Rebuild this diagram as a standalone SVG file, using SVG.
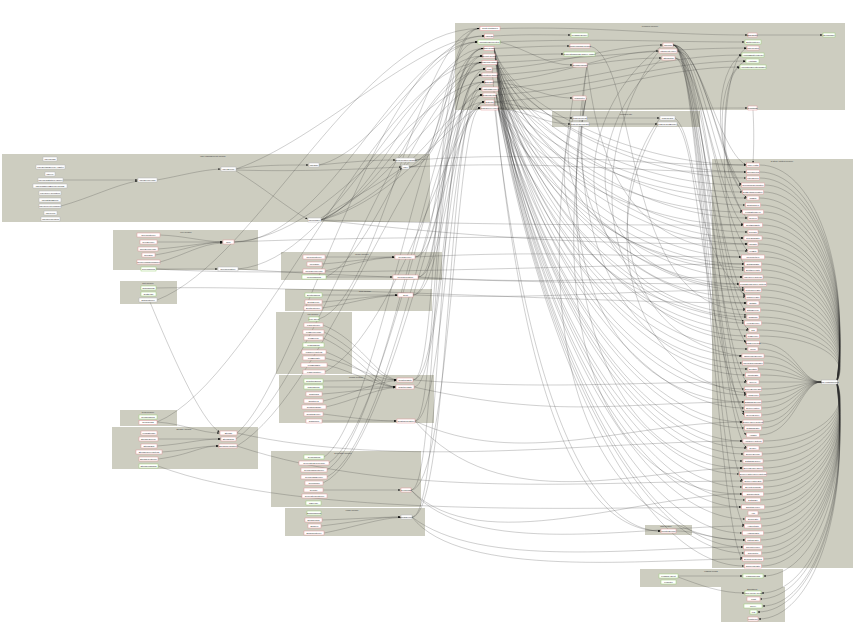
<svg xmlns="http://www.w3.org/2000/svg" width="857" height="640" viewBox="0 0 857 640">
<style>
.c{fill:#cdcdc0;stroke:none}
.np{fill:#fff;stroke:#e29a9a;stroke-width:.5}
.ng{fill:#fff;stroke:#9fd27a;stroke-width:.5}
.nw{fill:#fff;stroke:#b5b5b5;stroke-width:.5}
text{font-family:"Liberation Sans",Arial,sans-serif;font-size:2.2px;fill:#222;text-anchor:middle}
.ct{fill:#333}
.e{fill:none;stroke:#2b2b2b;stroke-opacity:.5;stroke-width:.45}
.m{marker-end:url(#ah)}
</style>
<defs>
<marker id="ah" viewBox="0 0 10 8" refX="10" refY="4" markerWidth="2.2" markerHeight="1.8" markerUnits="userSpaceOnUse" orient="auto"><path d="M0,0 L10,4 L0,8z" fill="#111"/></marker>
</defs>
<rect width="857" height="640" fill="#fff"/>
<g id="clusters">
<g id="c-common"><rect class="c" x="455" y="23" width="390" height="87"/><text class="ct" x="650" y="26.5">common-module</text></g>
<g id="c-dto"><rect class="c" x="552" y="111" width="148" height="16"/><text class="ct" x="626" y="114.5">common-dto</text></g>
<g id="c-user"><rect class="c" x="2" y="154" width="428" height="68"/><text class="ct" x="213" y="157">user-management-module</text></g>
<g id="c-role"><rect class="c" x="113" y="230" width="145" height="40"/><text class="ct" x="186" y="232.5">role-module</text></g>
<g id="c-dict"><rect class="c" x="120" y="281" width="57" height="23"/><text class="ct" x="148" y="283.5">dict-module</text></g>
<g id="c-menu"><rect class="c" x="281" y="252" width="161" height="28"/><text class="ct" x="362" y="254.5">menu-module</text></g>
<g id="c-dept"><rect class="c" x="285" y="289" width="147" height="22"/><text class="ct" x="365" y="291.5">dept-module</text></g>
<g id="c-log"><rect class="c" x="276" y="312" width="76" height="62"/><text class="ct" x="313" y="314.5">log-module</text></g>
<g id="c-quartz"><rect class="c" x="279" y="375" width="155" height="48"/><text class="ct" x="356" y="377.5">quartz-module</text></g>
<g id="c-tools"><rect class="c" x="120" y="410" width="57" height="16"/><text class="ct" x="148" y="412.5">tools-module</text></g>
<g id="c-storage"><rect class="c" x="112" y="427" width="146" height="42"/><text class="ct" x="184" y="429.5">storage-module</text></g>
<g id="c-gen"><rect class="c" x="271" y="451" width="150" height="56"/><text class="ct" x="343" y="453.5">generator-module</text></g>
<g id="c-email"><rect class="c" x="285" y="508" width="140" height="28"/><text class="ct" x="352" y="510.5">email-module</text></g>
<g id="c-entities"><rect class="c" x="712" y="159" width="141" height="409"/><text class="ct" x="782" y="162">system-entities-module</text></g>
<g id="c-mnt"><rect class="c" x="645" y="525" width="47" height="10"/><text class="ct" x="666" y="527.3">mnt-module</text></g>
<g id="c-logging"><rect class="c" x="640" y="569" width="143" height="18"/><text class="ct" x="711" y="572">logging-config</text></g>
<g id="c-annotation"><rect class="c" x="721" y="587" width="64" height="35"/><text class="ct" x="752" y="589.8">annotation</text></g>
</g>
<g id="edges">
<path class="e" d="M759.5,165C812,165 851,262.7 837,381"/>
<path class="e" d="M759.5,172C812,172 851,266.5 837,381"/>
<path class="e" d="M759.5,178C812,178 851,269.8 837,381"/>
<path class="e" d="M764.5,185C812,185 851,273.7 837,381"/>
<path class="e" d="M763.5,192C812,192 851,277.5 837,381"/>
<path class="e" d="M759,198C812,198 851,280.8 837,381"/>
<path class="e" d="M760.5,205C812,205 851,284.7 837,381"/>
<path class="e" d="M763.5,212C812,212 851,288.5 837,381"/>
<path class="e" d="M758,218C812,218 851,291.8 837,381"/>
<path class="e" d="M762.5,225C812,225 851,295.7 837,381"/>
<path class="e" d="M758,232C812,232 851,299.5 837,381"/>
<path class="e" d="M762,238C812,238 851,302.8 837,381"/>
<path class="e" d="M758,244C812,244 851,306 837,381"/>
<path class="e" d="M758,251C812,251 851,310 837,381"/>
<path class="e" d="M764.5,257C812,257 851,313 837,381"/>
<path class="e" d="M761.5,264C812,264 851,317 837,381"/>
<path class="e" d="M761.5,270C812,270 851,320 837,381"/>
<path class="e" d="M763,277C812,277 851,324 837,381"/>
<path class="e" d="M766.5,284C812,284 851,328 837,381"/>
<path class="e" d="M761.5,290C812,290 851,331 837,381"/>
<path class="e" d="M760.5,297C812,297 851,335 837,381"/>
<path class="e" d="M759,303C812,303 851,339 837,381"/>
<path class="e" d="M760.5,310C812,310 851,342 837,381"/>
<path class="e" d="M759,317C812,317 851,346 837,381"/>
<path class="e" d="M761.5,323C812,323 851,350 837,381"/>
<path class="e" d="M757,330C812,330 851,353 837,381"/>
<path class="e" d="M759.5,336C812,336 851,357 837,381"/>
<path class="e" d="M759.5,343C795,343 800,382 821.5,382"/>
<path class="e" d="M758,349C795,349 800,382 821.5,382"/>
<path class="e" d="M764,356C795,356 800,382 821.5,382"/>
<path class="e" d="M763.5,363C795,363 800,382 821.5,382"/>
<path class="e" d="M758,369C795,369 800,382 821.5,382"/>
<path class="e" d="M760.5,375C795,375 800,382 821.5,382"/>
<path class="e" d="M759,382L821.5,382"/>
<path class="e" d="M761.5,389C795,389 800,382 821.5,382"/>
<path class="e" d="M759.5,395C795,395 800,382 821.5,382"/>
<path class="e" d="M761.5,402C795,402 800,382 821.5,382"/>
<path class="e" d="M761.5,408C795,408 800,382 821.5,382"/>
<path class="e" d="M761.5,415C795,415 800,382 821.5,382"/>
<path class="e" d="M763,422C795,422 800,382 821.5,382"/>
<path class="e" d="M761.5,428C795,428 800,382 821.5,382"/>
<path class="e" d="M759.5,435C795,435 800,382 821.5,382"/>
<path class="e" d="M763,441C812,441 851,414.5 837,383"/>
<path class="e" d="M759,448C812,448 851,418 837,383"/>
<path class="e" d="M762,454C812,454 851,422 837,383"/>
<path class="e" d="M763,461C812,461 851,425.5 837,383"/>
<path class="e" d="M763,468C812,468 851,429 837,383"/>
<path class="e" d="M766.5,474C812,474 851,432.6 837,383"/>
<path class="e" d="M763,481C812,481 851,436.5 837,383"/>
<path class="e" d="M763.5,487C812,487 851,440 837,383"/>
<path class="e" d="M763.5,494C812,494 851,443.6 837,383"/>
<path class="e" d="M760.5,500C812,500 851,447 837,383"/>
<path class="e" d="M764.5,507C812,507 851,451 837,383"/>
<path class="e" d="M758,513C812,513 851,454 837,383"/>
<path class="e" d="M760.5,519C812,519 851,457 837,383"/>
<path class="e" d="M761.5,526C812,526 851,461 837,383"/>
<path class="e" d="M763.5,533C812,533 851,465 837,383"/>
<path class="e" d="M760.5,540C812,540 851,469 837,383"/>
<path class="e" d="M762.5,547C812,547 851,473 837,383"/>
<path class="e" d="M761.5,553C812,553 851,476 837,383"/>
<path class="e" d="M763.5,559C812,559 851,479 837,383"/>
<path class="e" d="M761.5,566C812,566 851,483 837,383"/>
<path class="e m" d="M837,384C851,489 812,576 763.5,576"/>
<path class="e m" d="M837,384C851,498 812,593 761.5,593"/>
<path class="e m" d="M837,384C851,501 812,599 760,599"/>
<path class="e m" d="M837,384C851,505 812,606 762.5,606"/>
<path class="e m" d="M837,384C851,509 812,612 757.5,612"/>
<path class="e m" d="M837,384C851,513 812,619 758.5,619"/>
<path class="e m" d="M494,48.5C512,107 636,165 746,165"/>
<path class="e m" d="M494,48.5C512,113 636,178 746,178"/>
<path class="e m" d="M494,48.5C512,127 635,205 745,205"/>
<path class="e m" d="M494,48.5C512,143 633,238 743.5,238"/>
<path class="e m" d="M494,48.5C512,163 632,277 742.5,277"/>
<path class="e m" d="M494,48.5C512,186 634,323 744,323"/>
<path class="e m" d="M494,48.5C512,212 635,375 745,375"/>
<path class="e m" d="M495,56C515,114 636,172 746,172"/>
<path class="e m" d="M495,56C515,137 637,218 747.5,218"/>
<path class="e m" d="M495,56C515,156 631,257 741,257"/>
<path class="e m" d="M495,56C515,180 636,303 746.5,303"/>
<path class="e m" d="M495,56C515,206 631,356 741.5,356"/>
<path class="e m" d="M495,56C515,239 632,422 742.5,422"/>
<path class="e m" d="M497,62.5C520,124 631,185 741,185"/>
<path class="e m" d="M497,62.5C520,147 637,232 747.5,232"/>
<path class="e m" d="M497,62.5C520,176 634,290 744,290"/>
<path class="e m" d="M497,62.5C520,199 636,336 746,336"/>
<path class="e m" d="M497,62.5C520,235 634,408 744,408"/>
<path class="e m" d="M497,62.5C520,262 632,461 742.5,461"/>
<path class="e m" d="M497,62.5C520,285 631,507 741,507"/>
<path class="e m" d="M497,75C525,133 632,192 742,192"/>
<path class="e m" d="M497,75C525,160 637,244 747.5,244"/>
<path class="e m" d="M497,75C525,196 636,317 746.5,317"/>
<path class="e m" d="M497,75C525,232 634,389 744,389"/>
<path class="e m" d="M497,75C525,258 632,441 742.5,441"/>
<path class="e m" d="M497,75C525,281 632,487 742,487"/>
<path class="e m" d="M497,75C525,304 632,533 742,533"/>
<path class="e m" d="M498,89C530,143 636,198 746.5,198"/>
<path class="e m" d="M498,89C530,176 634,264 744,264"/>
<path class="e m" d="M498,89C530,219 637,349 747.5,349"/>
<path class="e m" d="M498,89C530,258 634,428 744,428"/>
<path class="e m" d="M498,89C530,281 629,474 739,474"/>
<path class="e m" d="M498,89C530,304 635,519 745,519"/>
<path class="e m" d="M498,89C530,321 634,553 744,553"/>
<path class="e m" d="M496,95C535,153 632,212 742,212"/>
<path class="e m" d="M496,95C535,189 629,284 739,284"/>
<path class="e m" d="M496,95C535,229 632,363 742,363"/>
<path class="e m" d="M496,95C535,274 633,454 743.5,454"/>
<path class="e m" d="M496,95C535,297 635,500 745,500"/>
<path class="e m" d="M496,95C535,330 634,566 744,566"/>
<path class="e m" d="M498,108C540,166 633,225 743,225"/>
<path class="e m" d="M498,108C540,189 634,270 744,270"/>
<path class="e m" d="M498,108C540,219 638,330 748.5,330"/>
<path class="e m" d="M498,108C540,251 636,395 746,395"/>
<path class="e m" d="M498,108C540,278 636,448 746.5,448"/>
<path class="e m" d="M498,108C540,327 633,547 743,547"/>
<path class="e m" d="M587,65C600,180 640,251 747.5,251"/>
<path class="e m" d="M587,65C560,260 640,369 747.5,369"/>
<path class="e m" d="M587,65C545,330 630,468 742.5,468"/>
<path class="e m" d="M586,98C560,230 640,297 745,297"/>
<path class="e m" d="M586,98C545,300 640,402 744,402"/>
<path class="e m" d="M586,98C540,380 630,494 742,494"/>
<path class="e m" d="M573,98C520,420 630,540 745,540"/>
<path class="e m" d="M590,46C640,60 620,310 745,310"/>
<path class="e m" d="M571,124C540,250 620,300 744,321"/>
<path class="e m" d="M573,118C545,220 640,260 744,268"/>
<path class="e m" d="M660,118C600,200 620,340 742,356"/>
<path class="e m" d="M658,124C590,240 640,380 746,393"/>
<path class="e m" d="M675,118C700,140 690,250 745,295"/>
<path class="e m" d="M677,124C700,150 700,320 744,413"/>
<path class="e m" d="M663,45C560,120 560,300 746.5,315"/>
<path class="e m" d="M662,58C580,130 570,280 744,288"/>
<path class="e m" d="M659,51C590,140 580,330 746,341"/>
<path class="e m" d="M673,45C700,45 718,150 746,165"/>
<path class="e m" d="M673,45C700,45 716,145 741,185"/>
<path class="e m" d="M673,45C700,45 716,172 742,212"/>
<path class="e m" d="M673,45C700,45 716,211 747.5,251"/>
<path class="e m" d="M673,45C700,45 716,257 745,297"/>
<path class="e m" d="M673,45C700,45 716,303 746,343"/>
<path class="e m" d="M673,45C700,45 716,342 746.5,382"/>
<path class="e m" d="M673,45C700,45 716,375 744,415"/>
<path class="e m" d="M673,45C700,45 716,395 746,435"/>
<path class="e m" d="M673,45C700,45 716,441 742.5,481"/>
<path class="e m" d="M673,45C700,45 716,486 744,526"/>
<path class="e m" d="M673,45C700,45 716,519 742,559"/>
<path class="e m" d="M677,51C705,51 720,170 746.5,198"/>
<path class="e m" d="M677,51C705,51 718,280 745,310"/>
<path class="e m" d="M677,51C705,51 718,365 746,395"/>
<path class="e m" d="M675,58C700,58 718,200 743,225"/>
<path class="e m" d="M675,58C700,58 718,300 748.5,330"/>
<path class="e m" d="M675,58C700,58 718,418 746.5,448"/>
<path class="e m" d="M500,28.5C600,26 660,35 747.5,35"/>
<path class="e m" d="M500,42C600,38 660,42 744.5,42"/>
<path class="e m" d="M494,36C530,34 540,35 570.5,35"/>
<path class="e m" d="M494,48.5C530,47 540,46 569.5,46"/>
<path class="e m" d="M495,56C525,55 540,54 563.5,54"/>
<path class="e m" d="M497,62.5C600,58 660,48 746.5,48"/>
<path class="e m" d="M492,69C560,66 610,45 662.5,45"/>
<path class="e m" d="M493,82C560,78 610,51 658.5,51"/>
<path class="e m" d="M497,75C570,70 610,58 661.5,58"/>
<path class="e m" d="M498,89C600,80 660,55 741.5,55"/>
<path class="e m" d="M496,95C600,88 660,61 745.5,61"/>
<path class="e m" d="M494,102C600,95 660,67 739.5,67"/>
<path class="e m" d="M498,108C600,110 680,108 747.5,108"/>
<path class="e m" d="M500,42C530,50 545,65 572.5,65"/>
<path class="e m" d="M493,82C530,85 545,98 572.5,98"/>
<path class="e m" d="M757,35L822.5,35"/>
<path class="e m" d="M753,110C754,130 754,145 753,163"/>
<path class="e m" d="M741,185C712,150 715,70 741.5,55"/>
<path class="e m" d="M742,192C715,160 715,75 745.5,61"/>
<path class="e m" d="M747,218C720,190 718,80 739.5,67"/>
<path class="e m" d="M744,264C715,220 720,60 746.5,48"/>
<path class="e m" d="M494,102C530,105 545,118 572.5,118"/>
<path class="e m" d="M498,108C530,112 545,124 570.5,124"/>
<path class="e m" d="M587,118L659.5,118"/>
<path class="e m" d="M589,124L657.5,124"/>
<path class="e m" d="M415,160C450,160 445,28.5 479.5,28.5"/>
<path class="e m" d="M409,167C445,167 440,42 477.5,42"/>
<path class="e m" d="M409,167C448,167 450,56 482.5,56"/>
<path class="e m" d="M321,220C380,200 430,48.5 483.5,48.5"/>
<path class="e m" d="M321,220C390,190 440,62.5 481.5,62.5"/>
<path class="e m" d="M321,220C400,180 450,82 484.5,82"/>
<path class="e m" d="M321,220C410,190 455,95 482.5,95"/>
<path class="e m" d="M321,220C400,200 460,108 480.5,108"/>
<path class="e m" d="M415,257C440,257 440,62.5 481.5,62.5"/>
<path class="e m" d="M415,257C445,257 445,89 481.5,89"/>
<path class="e m" d="M418,277C445,277 440,48.5 483.5,48.5"/>
<path class="e m" d="M418,277C448,277 450,75 481.5,75"/>
<path class="e m" d="M413,295C442,295 445,56 482.5,56"/>
<path class="e m" d="M413,295C445,295 450,102 484.5,102"/>
<path class="e m" d="M413,380C440,380 430,28.5 479.5,28.5"/>
<path class="e m" d="M413,380C445,380 445,69 485.5,69"/>
<path class="e m" d="M414,387C442,387 450,82 484.5,82"/>
<path class="e m" d="M415,421C438,421 432,48.5 483.5,48.5"/>
<path class="e m" d="M415,421C445,421 450,95 482.5,95"/>
<path class="e m" d="M411,490C440,490 428,62.5 481.5,62.5"/>
<path class="e m" d="M411,490C450,490 455,108 480.5,108"/>
<path class="e m" d="M412,517C445,517 435,75 481.5,75"/>
<path class="e m" d="M412,517C450,517 448,89 481.5,89"/>
<path class="e m" d="M234,242C330,242 400,42 477.5,42"/>
<path class="e m" d="M234,242C340,235 420,82 484.5,82"/>
<path class="e m" d="M238,269C340,260 410,56 482.5,56"/>
<path class="e m" d="M237,433C300,380 380,36 484.5,36"/>
<path class="e m" d="M236,439C320,380 400,69 485.5,69"/>
<path class="e m" d="M237,446C330,390 420,102 484.5,102"/>
<path class="e m" d="M157,300C260,260 360,28.5 479.5,28.5"/>
<path class="e m" d="M236,169C320,140 420,36 484.5,36"/>
<path class="e m" d="M319,165C380,150 430,42 477.5,42"/>
<path class="e m" d="M157,422C260,380 380,62.5 481.5,62.5"/>
<path class="e m" d="M324,457C380,420 430,48.5 483.5,48.5"/>
<path class="e m" d="M329,463C390,420 440,89 481.5,89"/>
<path class="e m" d="M327,470C390,430 440,62.5 481.5,62.5"/>
<path class="e m" d="M327,477C395,440 445,95 482.5,95"/>
<path class="e m" d="M323,483C395,450 450,102 484.5,102"/>
<path class="e m" d="M319,319C380,300 420,28.5 479.5,28.5"/>
<path class="e m" d="M325,372C400,330 455,108 480.5,108"/>
<path class="e m" d="M326,277C380,250 430,69 485.5,69"/>
<path class="e m" d="M415,257C550,250 620,257 741,257"/>
<path class="e m" d="M418,277C550,285 620,277 742.5,277"/>
<path class="e m" d="M413,295C550,300 620,290 744,290"/>
<path class="e m" d="M413,380C550,390 620,382 746.5,382"/>
<path class="e m" d="M414,387C560,420 620,402 744,402"/>
<path class="e m" d="M415,421C520,470 630,422 742.5,422"/>
<path class="e m" d="M415,421C500,520 640,468 742.5,468"/>
<path class="e m" d="M411,490C480,560 640,494 742,494"/>
<path class="e m" d="M411,490C470,560 640,526 744,526"/>
<path class="e m" d="M412,517C480,570 640,547 743,547"/>
<path class="e m" d="M412,517C460,580 650,559 742,559"/>
<path class="e m" d="M237,433C400,470 600,441 742.5,441"/>
<path class="e m" d="M237,446C400,500 600,481 742.5,481"/>
<path class="e m" d="M158,466C300,520 600,507 741,507"/>
<path class="e m" d="M238,269C400,280 600,284 739,284"/>
<path class="e m" d="M156,269C300,278 600,264 744,264"/>
<path class="e m" d="M156,288C300,285 600,303 746.5,303"/>
<path class="e m" d="M234,242C400,235 600,238 743.5,238"/>
<path class="e m" d="M409,167C550,160 620,172 746,172"/>
<path class="e m" d="M321,220C500,225 600,225 743,225"/>
<path class="e m" d="M321,220C500,240 600,244 747.5,244"/>
<path class="e m" d="M415,160C550,150 620,165 746,165"/>
<path class="e m" d="M492,69C520,400 580,531 660.5,531"/>
<path class="e m" d="M494,102C530,430 600,531 660.5,531"/>
<path class="e m" d="M676,531C700,531 710,540 745,540"/>
<path class="e m" d="M678,576L742.5,576"/>
<path class="e m" d="M678,577C700,585 720,593 744.5,593"/>
<path class="e m" d="M63,180L137.5,180"/>
<path class="e m" d="M61,206C90,198 115,185 137.5,181"/>
<path class="e m" d="M157,180C180,176 200,170 220.5,169"/>
<path class="e m" d="M236,169C260,165 280,165 308.5,165"/>
<path class="e m" d="M236,170C300,172 360,169 401.5,167"/>
<path class="e m" d="M319,165C350,162 370,160 395.5,160"/>
<path class="e m" d="M236,171C260,185 290,210 307.5,219"/>
<path class="e m" d="M321,218C350,200 385,180 402,168"/>
<path class="e m" d="M160,235C185,236 200,241 222.5,242"/>
<path class="e m" d="M157,242L222.5,242"/>
<path class="e m" d="M158,249C185,247 200,243 222.5,242"/>
<path class="e m" d="M155,255C185,250 200,243 222.5,242"/>
<path class="e m" d="M160,262C185,255 200,244 222.5,243"/>
<path class="e m" d="M156,269L217.5,269"/>
<path class="e m" d="M150,302C170,350 200,420 219.5,432"/>
<path class="e m" d="M157,422C185,424 200,433 219.5,433"/>
<path class="e m" d="M158,439L220.5,439"/>
<path class="e m" d="M157,446C185,444 200,439 220.5,439"/>
<path class="e m" d="M162,452C190,450 200,446 218.5,446"/>
<path class="e m" d="M158,459C190,455 200,446 218.5,446"/>
<path class="e m" d="M325,257L394.5,257"/>
<path class="e m" d="M322,264C350,262 370,258 394.5,257"/>
<path class="e m" d="M325,271C350,265 370,258 394.5,257.5"/>
<path class="e m" d="M326,277L392.5,277"/>
<path class="e m" d="M322,295L397.5,295"/>
<path class="e m" d="M322,302C350,300 370,296 397.5,295"/>
<path class="e m" d="M322,308C350,304 370,296 397.5,295.5"/>
<path class="e m" d="M323,325C360,340 375,375 396.5,380"/>
<path class="e m" d="M324,332C360,350 375,378 396.5,380"/>
<path class="e m" d="M323,338C360,355 375,385 395.5,387"/>
<path class="e m" d="M326,352C360,365 375,386 395.5,387"/>
<path class="e m" d="M325,358C355,365 375,380 396.5,380"/>
<path class="e m" d="M327,365C355,372 375,386 395.5,387"/>
<path class="e m" d="M323,381L396.5,380"/>
<path class="e m" d="M323,387L395.5,387"/>
<path class="e m" d="M322,394C350,392 375,388 395.5,387"/>
<path class="e m" d="M323,401C350,395 375,382 396.5,380.5"/>
<path class="e m" d="M326,407C355,400 375,389 395.5,387.5"/>
<path class="e m" d="M323,414C355,418 375,421 396.5,421"/>
<path class="e m" d="M322,421L396.5,421"/>
<path class="e m" d="M323,490L400.5,490"/>
<path class="e m" d="M322,520C355,519 380,517 400.5,517"/>
<path class="e m" d="M321,526C355,522 380,517 400.5,517"/>
<path class="e m" d="M324,533C355,527 380,518 400.5,517.5"/>
</g>
<g id="nodes">
<g id="n-ContextInitializer"><rect class="np" x="480" y="26.5" width="20" height="4"/><text x="490" y="29.3">ContextInitializer</text></g>
<g id="n-AppMain"><rect class="np" x="484.5" y="34" width="9" height="4"/><text x="489" y="36.8">AppMain</text></g>
<g id="n-ApplicationProperties"><rect class="ng" x="478" y="40" width="22" height="4"/><text x="489" y="42.8">ApplicationProperties</text></g>
<g id="n-JdbcConfig"><rect class="np" x="484" y="46.5" width="10" height="4"/><text x="489" y="49.3">JdbcConfig</text></g>
<g id="n-SecurityConfig"><rect class="np" x="483" y="54" width="12" height="4"/><text x="489" y="56.8">SecurityConfig</text></g>
<g id="n-WebMvcConfigurer"><rect class="np" x="482" y="60.5" width="15" height="4"/><text x="489.5" y="63.3">WebMvcConfigurer</text></g>
<g id="n-Utils"><rect class="np" x="486" y="67" width="6" height="4"/><text x="489" y="69.8">Utils</text></g>
<g id="n-ExceptionHandler"><rect class="np" x="482" y="73" width="15" height="4"/><text x="489.5" y="75.8">ExceptionHandler</text></g>
<g id="n-BaseDao"><rect class="np" x="485" y="80" width="8" height="4"/><text x="489" y="82.8">BaseDao</text></g>
<g id="n-AbstractService"><rect class="np" x="482" y="87" width="16" height="4"/><text x="490" y="89.8">AbstractService</text></g>
<g id="n-ResponseUtils"><rect class="np" x="483" y="93" width="13" height="4"/><text x="489.5" y="95.8">ResponseUtils</text></g>
<g id="n-DateUtil"><rect class="np" x="485" y="100" width="9" height="4"/><text x="489.5" y="102.8">DateUtil</text></g>
<g id="n-PageQueryHelper"><rect class="np" x="481" y="106" width="17" height="4"/><text x="489.5" y="108.8">PageQueryHelper</text></g>
<g id="n-MessageSource"><rect class="ng" x="571" y="33" width="17" height="4"/><text x="579.5" y="35.8">MessageSource</text></g>
<g id="n-CacheManagerConfig"><rect class="np" x="570" y="44" width="20" height="4"/><text x="580" y="46.8">CacheManagerConfig</text></g>
<g id="n-RequestMappingHandlerAdapter"><rect class="ng" x="564" y="52" width="31" height="4"/><text x="579.5" y="54.8">RequestMappingHandlerAdapter</text></g>
<g id="n-RedisTemplate"><rect class="np" x="573" y="63" width="14" height="4"/><text x="580" y="65.8">RedisTemplate</text></g>
<g id="n-LoginFilter"><rect class="np" x="573" y="96" width="13" height="4"/><text x="579.5" y="98.8">LoginFilter</text></g>
<g id="n-JsonUtil"><rect class="np" x="663" y="43" width="10" height="4"/><text x="668" y="45.8">JsonUtil</text></g>
<g id="n-HttpClientHelper"><rect class="np" x="659" y="49" width="18" height="4"/><text x="668" y="51.8">HttpClientHelper</text></g>
<g id="n-StringUtils"><rect class="np" x="662" y="56" width="13" height="4"/><text x="668.5" y="58.8">StringUtils</text></g>
<g id="n-BaseEntity"><rect class="np" x="748" y="33" width="9" height="4"/><text x="752.5" y="35.8">BaseEntity</text></g>
<g id="n-EntityListener"><rect class="ng" x="745" y="40" width="16" height="4"/><text x="753" y="42.8">EntityListener</text></g>
<g id="n-IdGenerator"><rect class="np" x="747" y="46" width="12" height="4"/><text x="753" y="48.8">IdGenerator</text></g>
<g id="n-AuditingEntityListener"><rect class="ng" x="742" y="53" width="22" height="4"/><text x="753" y="55.8">AuditingEntityListener</text></g>
<g id="n-Auditable"><rect class="ng" x="746" y="59" width="13" height="4"/><text x="752.5" y="61.8">Auditable</text></g>
<g id="n-ApplicationEventPublisher"><rect class="ng" x="740" y="65" width="26" height="4"/><text x="753" y="67.8">ApplicationEventPublisher</text></g>
<g id="n-Serializable"><rect class="ng" x="823" y="33" width="12" height="4"/><text x="829" y="35.8">Serializable</text></g>
<g id="n-Constants"><rect class="np" x="748" y="106" width="9" height="4"/><text x="752.5" y="108.8">Constants</text></g>
<g id="n-PageRequest"><rect class="nw" x="573" y="116" width="14" height="4"/><text x="580" y="118.8">PageRequest</text></g>
<g id="n-PageResponseDto"><rect class="nw" x="571" y="122" width="18" height="4"/><text x="580" y="124.8">PageResponseDto</text></g>
<g id="n-PageResult"><rect class="nw" x="660" y="116" width="15" height="4"/><text x="667.5" y="118.8">PageResult</text></g>
<g id="n-PageResultBuilder"><rect class="nw" x="658" y="122" width="19" height="4"/><text x="667.5" y="124.8">PageResultBuilder</text></g>
<g id="n-UserConfig"><rect class="nw" x="43" y="157" width="14" height="4"/><text x="50" y="159.8">UserConfig</text></g>
<g id="n-UserDetailsServiceAdapter"><rect class="nw" x="36" y="165" width="29" height="4"/><text x="50.5" y="167.8">UserDetailsServiceAdapter</text></g>
<g id="n-UserVo"><rect class="nw" x="45" y="172" width="10" height="4"/><text x="50" y="174.8">UserVo</text></g>
<g id="n-UserRegistrationHandler"><rect class="nw" x="38" y="178" width="25" height="4"/><text x="50.5" y="180.8">UserRegistrationHandler</text></g>
<g id="n-UserPasswordEncoderConfig"><rect class="nw" x="33" y="184" width="34" height="4"/><text x="50" y="186.8">UserPasswordEncoderConfig</text></g>
<g id="n-UserQueryCondition"><rect class="nw" x="39" y="191" width="22" height="4"/><text x="50" y="193.8">UserQueryCondition</text></g>
<g id="n-UserStatusEnum"><rect class="nw" x="39" y="198" width="22" height="4"/><text x="50" y="200.8">UserStatusEnum</text></g>
<g id="n-UserConverterMapper"><rect class="nw" x="39" y="204" width="22" height="4"/><text x="50" y="206.8">UserConverterMapper</text></g>
<g id="n-UserForm"><rect class="nw" x="44" y="211" width="13" height="4"/><text x="50.5" y="213.8">UserForm</text></g>
<g id="n-UserRoleRelation"><rect class="nw" x="41" y="217" width="19" height="4"/><text x="50.5" y="219.8">UserRoleRelation</text></g>
<g id="n-UserServiceImpl"><rect class="nw" x="138" y="178" width="19" height="4"/><text x="147.5" y="180.8">UserServiceImpl</text></g>
<g id="n-UserService"><rect class="nw" x="221" y="167" width="15" height="4"/><text x="228.5" y="169.8">UserService</text></g>
<g id="n-UserDao"><rect class="nw" x="309" y="163" width="10" height="4"/><text x="314" y="165.8">UserDao</text></g>
<g id="n-UserRepositoryCustom"><rect class="nw" x="396" y="158" width="19" height="4"/><text x="405.5" y="160.8">UserRepositoryCustom</text></g>
<g id="n-User"><rect class="nw" x="402" y="165" width="7" height="4"/><text x="405.5" y="167.8">User</text></g>
<g id="n-UserMapper"><rect class="nw" x="308" y="218" width="13" height="4"/><text x="314.5" y="220.8">UserMapper</text></g>
<g id="n-RoleController"><rect class="np" x="137" y="233" width="23" height="4"/><text x="148.5" y="235.8">RoleController</text></g>
<g id="n-RoleService"><rect class="np" x="140" y="240" width="17" height="4"/><text x="148.5" y="242.8">RoleService</text></g>
<g id="n-RoleServiceImpl"><rect class="np" x="138" y="247" width="20" height="4"/><text x="148" y="249.8">RoleServiceImpl</text></g>
<g id="n-RoleDao"><rect class="np" x="142" y="253" width="13" height="4"/><text x="148.5" y="255.8">RoleDao</text></g>
<g id="n-RolePermissionMapper"><rect class="np" x="137" y="260" width="23" height="4"/><text x="148.5" y="262.8">RolePermissionMapper</text></g>
<g id="n-RoleMapping"><rect class="ng" x="141" y="267" width="15" height="4"/><text x="148.5" y="269.8">RoleMapping</text></g>
<g id="n-Role"><rect class="np" x="223" y="240" width="11" height="4"/><text x="228.5" y="242.8">Role</text></g>
<g id="n-RoleRepository"><rect class="nw" x="218" y="267" width="20" height="4"/><text x="228" y="269.8">RoleRepository</text></g>
<g id="n-DictMapping"><rect class="ng" x="141" y="286" width="15" height="4"/><text x="148.5" y="288.8">DictMapping</text></g>
<g id="n-DictDetail"><rect class="ng" x="141" y="292" width="15" height="4"/><text x="148.5" y="294.8">DictDetail</text></g>
<g id="n-DictController"><rect class="nw" x="139" y="298" width="18" height="4"/><text x="148" y="300.8">DictController</text></g>
<g id="n-MenuController"><rect class="np" x="303" y="255" width="22" height="4"/><text x="314" y="257.8">MenuController</text></g>
<g id="n-MenuDao"><rect class="np" x="307" y="262" width="15" height="4"/><text x="314.5" y="264.8">MenuDao</text></g>
<g id="n-MenuServiceImpl"><rect class="np" x="303" y="269" width="22" height="4"/><text x="314" y="271.8">MenuServiceImpl</text></g>
<g id="n-MenuMapping"><rect class="ng" x="302" y="275" width="24" height="4"/><text x="314" y="277.8">MenuMapping</text></g>
<g id="n-MenuService"><rect class="np" x="395" y="255" width="20" height="4"/><text x="405" y="257.8">MenuService</text></g>
<g id="n-MenuRepository"><rect class="np" x="393" y="275" width="25" height="4"/><text x="405.5" y="277.8">MenuRepository</text></g>
<g id="n-DeptMapping"><rect class="ng" x="305" y="293" width="17" height="4"/><text x="313.5" y="295.8">DeptMapping</text></g>
<g id="n-DeptService"><rect class="np" x="305" y="300" width="17" height="4"/><text x="313.5" y="302.8">DeptService</text></g>
<g id="n-DeptController"><rect class="np" x="304" y="306" width="18" height="4"/><text x="313" y="308.8">DeptController</text></g>
<g id="n-Dept"><rect class="np" x="398" y="293" width="15" height="4"/><text x="405.5" y="295.8">Dept</text></g>
<g id="n-LogAspect"><rect class="ng" x="309" y="317" width="10" height="4"/><text x="314" y="319.8">LogAspect</text></g>
<g id="n-LogController"><rect class="np" x="304" y="323" width="19" height="4"/><text x="313.5" y="325.8">LogController</text></g>
<g id="n-LogServiceImpl"><rect class="np" x="303" y="330" width="21" height="4"/><text x="313.5" y="332.8">LogServiceImpl</text></g>
<g id="n-LogService"><rect class="np" x="304" y="336" width="19" height="4"/><text x="313.5" y="338.8">LogService</text></g>
<g id="n-LogMapping"><rect class="ng" x="303" y="343" width="21" height="4"/><text x="313.5" y="345.8">LogMapping</text></g>
<g id="n-LogQueryCriteria"><rect class="np" x="302" y="350" width="24" height="4"/><text x="314" y="352.8">LogQueryCriteria</text></g>
<g id="n-LogErrorDto"><rect class="np" x="303" y="356" width="22" height="4"/><text x="314" y="358.8">LogErrorDto</text></g>
<g id="n-LogSmallDto"><rect class="np" x="301" y="363" width="26" height="4"/><text x="314" y="365.8">LogSmallDto</text></g>
<g id="n-LogRepository"><rect class="np" x="303" y="370" width="22" height="4"/><text x="314" y="372.8">LogRepository</text></g>
<g id="n-QuartzMapping"><rect class="ng" x="304" y="379" width="19" height="4"/><text x="313.5" y="381.8">QuartzMapping</text></g>
<g id="n-JobMapping"><rect class="ng" x="304" y="385" width="19" height="4"/><text x="313.5" y="387.8">JobMapping</text></g>
<g id="n-QuartzJob"><rect class="np" x="306" y="392" width="16" height="4"/><text x="314" y="394.8">QuartzJob</text></g>
<g id="n-QuartzLog"><rect class="np" x="304" y="399" width="19" height="4"/><text x="313.5" y="401.8">QuartzLog</text></g>
<g id="n-QuartzManage"><rect class="np" x="302" y="405" width="24" height="4"/><text x="314" y="407.8">QuartzManage</text></g>
<g id="n-QuartzService"><rect class="np" x="304" y="412" width="19" height="4"/><text x="313.5" y="414.8">QuartzService</text></g>
<g id="n-JobRunner"><rect class="np" x="306" y="419" width="16" height="4"/><text x="314" y="421.8">JobRunner</text></g>
<g id="n-QuartzJobDto"><rect class="np" x="397" y="378" width="16" height="4"/><text x="405" y="380.8">QuartzJobDto</text></g>
<g id="n-QuartzLogDto"><rect class="np" x="396" y="385" width="18" height="4"/><text x="405" y="387.8">QuartzLogDto</text></g>
<g id="n-QuartzRepository"><rect class="np" x="397" y="419" width="18" height="4"/><text x="406" y="421.8">QuartzRepository</text></g>
<g id="n-ToolsMapping"><rect class="ng" x="139" y="415" width="18" height="4"/><text x="148" y="417.8">ToolsMapping</text></g>
<g id="n-ToolsConfig"><rect class="np" x="139" y="420.5" width="18" height="4"/><text x="148" y="423.3">ToolsConfig</text></g>
<g id="n-LocalStorage"><rect class="np" x="141" y="431" width="16" height="4"/><text x="149" y="433.8">LocalStorage</text></g>
<g id="n-StorageService"><rect class="np" x="139" y="437" width="19" height="4"/><text x="148.5" y="439.8">StorageService</text></g>
<g id="n-StorageDto"><rect class="np" x="141" y="444" width="16" height="4"/><text x="149" y="446.8">StorageDto</text></g>
<g id="n-StorageQueryCriteria"><rect class="np" x="136" y="450" width="26" height="4"/><text x="149" y="452.8">StorageQueryCriteria</text></g>
<g id="n-StorageController"><rect class="np" x="139" y="457" width="19" height="4"/><text x="148.5" y="459.8">StorageController</text></g>
<g id="n-StorageMapping"><rect class="ng" x="139" y="464" width="19" height="4"/><text x="148.5" y="466.8">StorageMapping</text></g>
<g id="n-Storage"><rect class="np" x="220" y="431" width="17" height="4"/><text x="228.5" y="433.8">Storage</text></g>
<g id="n-StorageDao"><rect class="np" x="221" y="437" width="15" height="4"/><text x="228.5" y="439.8">StorageDao</text></g>
<g id="n-StorageRepository"><rect class="np" x="219" y="444" width="18" height="4"/><text x="228" y="446.8">StorageRepository</text></g>
<g id="n-GenMapping"><rect class="ng" x="304" y="455" width="20" height="4"/><text x="314" y="457.8">GenMapping</text></g>
<g id="n-GeneratorServiceImpl"><rect class="np" x="299" y="461" width="30" height="4"/><text x="314" y="463.8">GeneratorServiceImpl</text></g>
<g id="n-GenConfigController"><rect class="np" x="301" y="468" width="26" height="4"/><text x="314" y="470.8">GenConfigController</text></g>
<g id="n-GenConfigService"><rect class="np" x="301" y="475" width="26" height="4"/><text x="314" y="477.8">GenConfigService</text></g>
<g id="n-ColumnInfo"><rect class="np" x="305" y="481" width="18" height="4"/><text x="314" y="483.8">ColumnInfo</text></g>
<g id="n-GenUtil"><rect class="np" x="304" y="488" width="19" height="4"/><text x="313.5" y="490.8">GenUtil</text></g>
<g id="n-GeneratorController"><rect class="np" x="302" y="494" width="25" height="4"/><text x="314.5" y="496.8">GeneratorController</text></g>
<g id="n-TableInfo"><rect class="ng" x="306" y="501" width="15" height="4"/><text x="313.5" y="503.8">TableInfo</text></g>
<g id="n-GenConfig"><rect class="np" x="401" y="488" width="10" height="4"/><text x="406" y="490.8">GenConfig</text></g>
<g id="n-EmailMapping"><rect class="ng" x="307" y="511" width="14" height="4"/><text x="314" y="513.8">EmailMapping</text></g>
<g id="n-EmailConfig"><rect class="np" x="305" y="518" width="17" height="4"/><text x="313.5" y="520.8">EmailConfig</text></g>
<g id="n-EmailVo"><rect class="np" x="308" y="524" width="13" height="4"/><text x="314.5" y="526.8">EmailVo</text></g>
<g id="n-EmailController"><rect class="np" x="304" y="531" width="20" height="4"/><text x="314" y="533.8">EmailController</text></g>
<g id="n-EmailService"><rect class="nw" x="401" y="515" width="11" height="4"/><text x="406.5" y="517.8">EmailService</text></g>
<g id="n-UserAvatar"><rect class="np" x="746.5" y="163" width="13" height="4"/><text x="753" y="165.8">UserAvatar</text></g>
<g id="n-RolesMenus"><rect class="np" x="746.5" y="170" width="13" height="4"/><text x="753" y="172.8">RolesMenus</text></g>
<g id="n-UsersRoles"><rect class="np" x="746.5" y="176" width="13" height="4"/><text x="753" y="178.8">UsersRoles</text></g>
<g id="n-ColumnInfoRepository"><rect class="np" x="741.5" y="183" width="23" height="4"/><text x="753" y="185.8">ColumnInfoRepository</text></g>
<g id="n-DictDetailRepository"><rect class="np" x="742.5" y="190" width="21" height="4"/><text x="753" y="192.8">DictDetailRepository</text></g>
<g id="n-JobDto"><rect class="np" x="747" y="196" width="12" height="4"/><text x="753" y="198.8">JobDto</text></g>
<g id="n-QuartzJobVo"><rect class="np" x="745.5" y="203" width="15" height="4"/><text x="753" y="205.8">QuartzJobVo</text></g>
<g id="n-LocalStorageVo"><rect class="np" x="742.5" y="210" width="21" height="4"/><text x="753" y="212.8">LocalStorageVo</text></g>
<g id="n-MenuVo"><rect class="np" x="748" y="216" width="10" height="4"/><text x="753" y="218.8">MenuVo</text></g>
<g id="n-DeptSmallDto"><rect class="np" x="743.5" y="223" width="19" height="4"/><text x="753" y="225.8">DeptSmallDto</text></g>
<g id="n-RoleDto"><rect class="np" x="748" y="230" width="10" height="4"/><text x="753" y="232.8">RoleDto</text></g>
<g id="n-RoleSmallDto"><rect class="np" x="744" y="236" width="18" height="4"/><text x="753" y="238.8">RoleSmallDto</text></g>
<g id="n-UserDto"><rect class="np" x="748" y="242" width="10" height="4"/><text x="753" y="244.8">UserDto</text></g>
<g id="n-LogDto"><rect class="np" x="748" y="249" width="10" height="4"/><text x="753" y="251.8">LogDto</text></g>
<g id="n-MenuMetaVo"><rect class="np" x="741.5" y="255" width="23" height="4"/><text x="753" y="257.8">MenuMetaVo</text></g>
<g id="n-DictSmallDto"><rect class="np" x="744.5" y="262" width="17" height="4"/><text x="753" y="264.8">DictSmallDto</text></g>
<g id="n-DeptQueryDto"><rect class="np" x="744.5" y="268" width="17" height="4"/><text x="753" y="270.8">DeptQueryDto</text></g>
<g id="n-UserQueryCriteria"><rect class="np" x="743" y="275" width="20" height="4"/><text x="753" y="277.8">UserQueryCriteria</text></g>
<g id="n-LocalStorageQueryCriteria"><rect class="np" x="739.5" y="282" width="27" height="4"/><text x="753" y="284.8">LocalStorageQueryCriteria</text></g>
<g id="n-MenuQueryDto"><rect class="np" x="744.5" y="288" width="17" height="4"/><text x="753" y="290.8">MenuQueryDto</text></g>
<g id="n-JobQueryDto"><rect class="np" x="745.5" y="295" width="15" height="4"/><text x="753" y="297.8">JobQueryDto</text></g>
<g id="n-DictDto"><rect class="np" x="747" y="301" width="12" height="4"/><text x="753" y="303.8">DictDto</text></g>
<g id="n-DataService"><rect class="np" x="745.5" y="308" width="15" height="4"/><text x="753" y="310.8">DataService</text></g>
<g id="n-JobSmall"><rect class="np" x="747" y="315" width="12" height="4"/><text x="753" y="317.8">JobSmall</text></g>
<g id="n-VerifyService"><rect class="np" x="744.5" y="321" width="17" height="4"/><text x="753" y="323.8">VerifyService</text></g>
<g id="n-Job"><rect class="np" x="749" y="328" width="8" height="4"/><text x="753" y="330.8">Job</text></g>
<g id="n-JobService"><rect class="np" x="746.5" y="334" width="13" height="4"/><text x="753" y="336.8">JobService</text></g>
<g id="n-DictServiceImpl"><rect class="np" x="746.5" y="341" width="13" height="4"/><text x="753" y="343.8">DictServiceImpl</text></g>
<g id="n-Menu"><rect class="np" x="748" y="347" width="10" height="4"/><text x="753" y="349.8">Menu</text></g>
<g id="n-OnlineUserService"><rect class="np" x="742" y="354" width="22" height="4"/><text x="753" y="356.8">OnlineUserService</text></g>
<g id="n-UserCacheManager"><rect class="np" x="742.5" y="361" width="21" height="4"/><text x="753" y="363.8">UserCacheManager</text></g>
<g id="n-DeptDto"><rect class="np" x="748" y="367" width="10" height="4"/><text x="753" y="369.8">DeptDto</text></g>
<g id="n-MonitorDto"><rect class="np" x="745.5" y="373" width="15" height="4"/><text x="753" y="375.8">MonitorDto</text></g>
<g id="n-RoleVo"><rect class="np" x="747" y="380" width="12" height="4"/><text x="753" y="382.8">RoleVo</text></g>
<g id="n-ServerDeployDto"><rect class="np" x="744.5" y="387" width="17" height="4"/><text x="753" y="389.8">ServerDeployDto</text></g>
<g id="n-AppService"><rect class="np" x="746.5" y="393" width="13" height="4"/><text x="753" y="395.8">AppService</text></g>
<g id="n-DatabaseService"><rect class="np" x="744.5" y="400" width="17" height="4"/><text x="753" y="402.8">DatabaseService</text></g>
<g id="n-DeployHistory"><rect class="np" x="744.5" y="406" width="17" height="4"/><text x="753" y="408.8">DeployHistory</text></g>
<g id="n-ServerDeploy"><rect class="np" x="744.5" y="413" width="17" height="4"/><text x="753" y="415.8">ServerDeploy</text></g>
<g id="n-DeployQueryCriteria"><rect class="np" x="743" y="420" width="20" height="4"/><text x="753" y="422.8">DeployQueryCriteria</text></g>
<g id="n-DatabaseDto"><rect class="np" x="744.5" y="426" width="17" height="4"/><text x="753" y="428.8">DatabaseDto</text></g>
<g id="n-AppDto"><rect class="np" x="746.5" y="433" width="13" height="4"/><text x="753" y="435.8">AppDto</text></g>
<g id="n-AppQueryCriteria"><rect class="np" x="743" y="439" width="20" height="4"/><text x="753" y="441.8">AppQueryCriteria</text></g>
<g id="n-Deploy"><rect class="np" x="747" y="446" width="12" height="4"/><text x="753" y="448.8">Deploy</text></g>
<g id="n-DeployService"><rect class="np" x="744" y="452" width="18" height="4"/><text x="753" y="454.8">DeployService</text></g>
<g id="n-DatabaseQuery"><rect class="np" x="743" y="459" width="20" height="4"/><text x="753" y="461.8">DatabaseQuery</text></g>
<g id="n-ServerDeployQuery"><rect class="np" x="743" y="466" width="20" height="4"/><text x="753" y="468.8">ServerDeployQuery</text></g>
<g id="n-DeployHistoryQueryCriteria"><rect class="np" x="739.5" y="472" width="27" height="4"/><text x="753" y="474.8">DeployHistoryQueryCriteria</text></g>
<g id="n-DeployHistoryDto"><rect class="np" x="743" y="479" width="20" height="4"/><text x="753" y="481.8">DeployHistoryDto</text></g>
<g id="n-ExecuteCmdUtil"><rect class="np" x="742.5" y="485" width="21" height="4"/><text x="753" y="487.8">ExecuteCmdUtil</text></g>
<g id="n-ScpClientUtil"><rect class="np" x="742.5" y="492" width="21" height="4"/><text x="753" y="494.8">ScpClientUtil</text></g>
<g id="n-Database"><rect class="np" x="745.5" y="498" width="15" height="4"/><text x="753" y="500.8">Database</text></g>
<g id="n-SqlUtilsHelper"><rect class="np" x="741.5" y="505" width="23" height="4"/><text x="753" y="507.8">SqlUtilsHelper</text></g>
<g id="n-App"><rect class="np" x="748" y="511" width="10" height="4"/><text x="753" y="513.8">App</text></g>
<g id="n-DeployDto"><rect class="np" x="745.5" y="517" width="15" height="4"/><text x="753" y="519.8">DeployDto</text></g>
<g id="n-AuthorityDto"><rect class="np" x="744.5" y="524" width="17" height="4"/><text x="753" y="526.8">AuthorityDto</text></g>
<g id="n-AuthUserDto"><rect class="np" x="742.5" y="531" width="21" height="4"/><text x="753" y="533.8">AuthUserDto</text></g>
<g id="n-JwtUserDto"><rect class="np" x="745.5" y="538" width="15" height="4"/><text x="753" y="540.8">JwtUserDto</text></g>
<g id="n-TokenProvider"><rect class="np" x="743.5" y="545" width="19" height="4"/><text x="753" y="547.8">TokenProvider</text></g>
<g id="n-TokenFilter"><rect class="np" x="744.5" y="551" width="17" height="4"/><text x="753" y="553.8">TokenFilter</text></g>
<g id="n-SecurityProperties"><rect class="np" x="742.5" y="557" width="21" height="4"/><text x="753" y="559.8">SecurityProperties</text></g>
<g id="n-OnlineUserDto"><rect class="np" x="744.5" y="564" width="17" height="4"/><text x="753" y="566.8">OnlineUserDto</text></g>
<g id="n-JpaAuditingConfig"><rect class="nw" x="821.5" y="380" width="16" height="4"/><text x="829.5" y="382.8">JpaAuditingConfig</text></g>
<g id="n-MonitorService"><rect class="np" x="661" y="529" width="15" height="4"/><text x="668.5" y="531.8">MonitorService</text></g>
<g id="n-LoggingAspect"><rect class="ng" x="659" y="574" width="19" height="4"/><text x="668.5" y="576.8">LoggingAspect</text></g>
<g id="n-LogFilter"><rect class="ng" x="661" y="580" width="15" height="4"/><text x="668.5" y="582.8">LogFilter</text></g>
<g id="n-LoggingConfig"><rect class="ng" x="743" y="574" width="20" height="4"/><text x="753" y="576.8">LoggingConfig</text></g>
<g id="n-AnonymousAccess"><rect class="ng" x="745" y="591" width="16" height="4"/><text x="753" y="593.8">AnonymousAccess</text></g>
<g id="n-Limit"><rect class="np" x="747" y="597" width="13" height="4"/><text x="753.5" y="599.8">Limit</text></g>
<g id="n-Query"><rect class="ng" x="744" y="604" width="18" height="4"/><text x="753" y="606.8">Query</text></g>
<g id="n-Log"><rect class="ng" x="750" y="610" width="7" height="4"/><text x="753.5" y="612.8">Log</text></g>
<g id="n-LimitType"><rect class="np" x="748" y="617" width="10" height="4"/><text x="753" y="619.8">LimitType</text></g>
</g>
</svg>
